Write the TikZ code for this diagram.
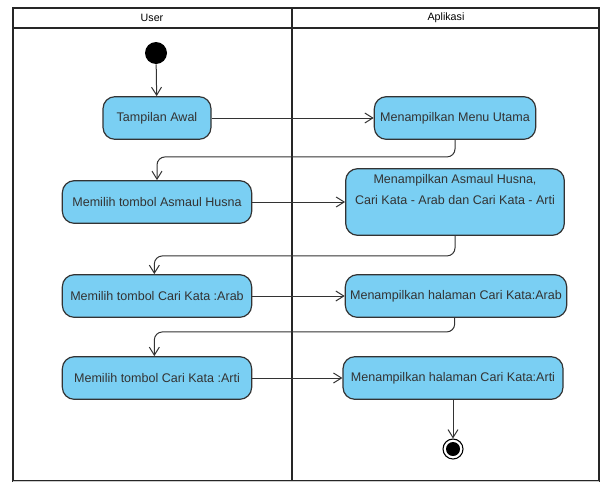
\documentclass[tikz,border=0pt]{standalone}
\usepackage{fontspec}
\setmainfont{Liberation Sans}
\usetikzlibrary{arrows.meta}
\definecolor{actfill}{RGB}{122,207,243}
\definecolor{actline}{RGB}{51,51,51}

\begin{document}
\begin{tikzpicture}[x=0.75pt,y=-0.75pt,>={Straight Barb[length=6pt,width=7.5pt]}]
        \tikzstyle{act}=[rectangle, rounded corners=9pt, draw=actline, line width=0.9pt, fill=actfill, inner sep=0pt, font=\fontsize{9.4}{11}\selectfont, text=black!80]
        \tikzstyle{flow}=[->, draw=black!80, line width=0.75pt, rounded corners=6pt]
        \useasboundingbox (0,0) rectangle (602,482);
        % swimlanes
        \draw[very thick, black!85] (13,8) rectangle (599,481);
        \draw[very thick, black!85] (13,28) -- (599,28);
        \draw[very thick, black!85] (292,8) -- (292,481);
        \draw[black!20] (13,481) -- (599,481);
        \node[font=\fontsize{8}{9}\selectfont] (laneuser) at (152,18) {User};
        \node[font=\fontsize{8}{9}\selectfont] (laneapp) at (446,18) {Aplikasi};
        % user lane
        \node[circle, fill=black, minimum size=16.5pt, inner sep=0pt] (start) at (156,53) {};
        \node[act, minimum width=81pt, minimum height=32pt] (awal) at (157,118) {Tampilan Awal};
        \node[act, minimum width=142pt, minimum height=32pt] (pilihasmaul) at (157,202) {Memilih tombol Asmaul Husna};
        \node[act, minimum width=142pt, minimum height=32pt] (pilihrab) at (157,296) {Memilih tombol Cari Kata :Arab};
        \node[act, minimum width=142pt, minimum height=32pt] (piliharti) at (157,378) {Memilih tombol Cari Kata :Arti};
        % aplikasi lane
        \node[act, minimum width=121pt, minimum height=32pt] (menu) at (455,118) {Menampilkan Menu Utama};
        \node[act, minimum width=164pt, minimum height=50pt, align=center] (asmaul) at (455,202) {Menampilkan Asmaul Husna,\\[4.5pt]Cari Kata - Arab dan Cari Kata - Arti\\[4.5pt]\strut};
        \node[act, minimum width=166pt, minimum height=32pt] (halarab) at (456,296) {Menampilkan halaman Cari Kata:Arab};
        \node[act, minimum width=165pt, minimum height=32pt] (halarti) at (453,378) {Menampilkan halaman Cari Kata:Arti};
        \node[circle, draw=black, thick, fill=white, minimum size=15pt, inner sep=0pt] (finish) at (453,449) {};
        \node[circle, fill=black, minimum size=10.5pt, inner sep=0pt] at (finish) {};
        % connectors
        \draw[flow] (start) -- (awal);
        \draw[flow] (awal) -- (menu);
        \draw[flow] (menu.south) -- ++(0,17) -| (pilihasmaul.north);
        \draw[flow] (pilihasmaul) -- (asmaul);
        \draw[flow] (asmaul.south) -- ++(0,20) -| ([xshift=-2]pilihrab.north);
        \draw[flow] (pilihrab) -- (halarab);
        \draw[flow] ([xshift=-1]halarab.south) -- ++(0,14) -| ([xshift=-2]piliharti.north);
        \draw[flow] (piliharti) -- (halarti);
        \draw[flow] (halarti) -- (finish);
    \end{tikzpicture}
\end{document}
